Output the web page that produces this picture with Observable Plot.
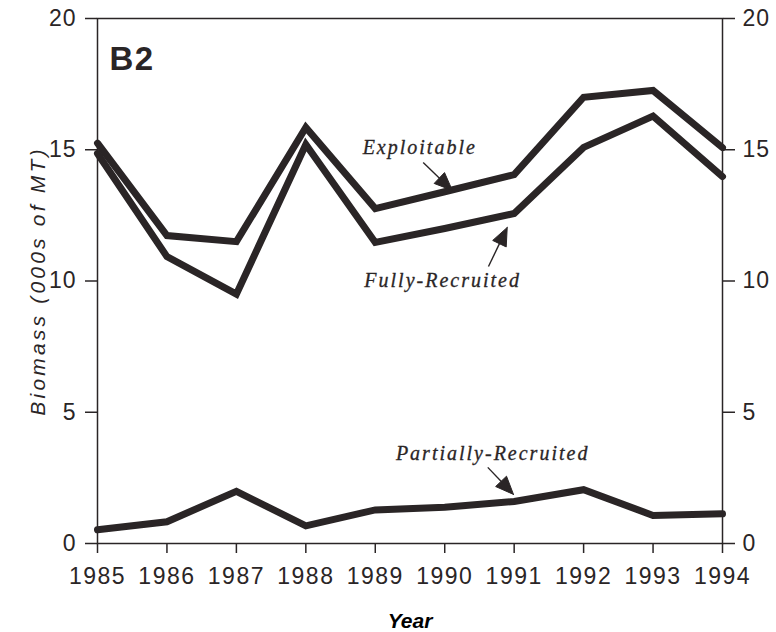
<!DOCTYPE html>
<html><head><meta charset="utf-8">
<script src="https://cdn.jsdelivr.net/npm/d3@7"></script>
<script src="https://cdn.jsdelivr.net/npm/@observablehq/plot@0.6"></script>
<style>
body{margin:0;background:#fff;}
#chart svg{display:block;}
#chart g[aria-label="x-axis tick label"] text{letter-spacing:1.5px;}
#chart g[aria-label="y-axis tick label"] text{letter-spacing:1px;}
</style></head><body><div id="chart"></div>
<script>
const years = [1985, 1986, 1987, 1988, 1989, 1990, 1991, 1992, 1993, 1994];
const exploitable = [15.25, 11.73, 11.5, 15.85, 12.76, 13.4, 14.05, 17.0, 17.26, 15.08];
const fullyRecruited = [14.86, 10.93, 9.5, 15.2, 11.47, 12.0, 12.57, 15.09, 16.28, 13.98];
const partiallyRecruited = [0.52, 0.83, 1.99, 0.67, 1.28, 1.38, 1.6, 2.05, 1.07, 1.13];
const yTicks = [0, 5, 10, 15, 20];
const xTicks = years;
const panelLabel = "B2";
const yLabel = "Biomass (000s of MT)";
const xLabel = "Year";
const seriesLabels = ["Exploitable", "Fully-Recruited", "Partially-Recruited"];
const labelX = [1989.64, 1989.97, 1990.69];
const labelY = [15.09, 10.02, 3.43];
const arrowFromX = [1989.69, 1990.63, 1990.62];
const arrowFromY = [14.51, 10.55, 2.9];
const arrowToX = [1990.11, 1990.9, 1990.99];
const arrowToY = [13.45, 12.04, 1.87];

const W = 776, H = 632, mL = 97, mR = 54, mT = 18, mB = 89;
const ink = "#2a2526";

const rows = [];
years.forEach((yr, i) => {
  rows.push({year: yr, value: exploitable[i], series: "Exploitable"});
  rows.push({year: yr, value: fullyRecruited[i], series: "Fully-Recruited"});
  rows.push({year: yr, value: partiallyRecruited[i], series: "Partially-Recruited"});
});

// pixel helpers mirroring plot scales, used for arrowhead geometry
const sx = d3.scaleLinear([1985, 1994], [mL, W - mR]);
const sy = d3.scaleLinear([0, 20], [H - mB, mT]);
const shafts = [], heads = [];
seriesLabels.forEach((s, i) => {
  const x1 = sx(arrowFromX[i]), y1 = sy(arrowFromY[i]);
  const x2 = sx(arrowToX[i]), y2 = sy(arrowToY[i]);
  const dx = x2 - x1, dy = y2 - y1, len = Math.hypot(dx, dy);
  const ux = dx / len, uy = dy / len;
  const hl = 18, hw = 7.5;
  const bx = x2 - ux * hl, by = y2 - uy * hl;
  shafts.push({x1: arrowFromX[i], y1: arrowFromY[i], x2: sx.invert(bx + ux * 2), y2: sy.invert(by + uy * 2)});
  const pts = [[x2, y2], [bx - uy * hw, by + ux * hw], [bx + uy * hw, by - ux * hw], [x2, y2]];
  pts.forEach(p => heads.push({x: sx.invert(p[0]), y: sy.invert(p[1]), k: s}));
});
const labelRows = seriesLabels.map((t, i) => ({text: t, x: labelX[i], y: labelY[i]}));

const chart = Plot.plot({
  width: W, height: H,
  marginLeft: mL, marginRight: mR, marginTop: mT, marginBottom: mB,
  style: {fontFamily: "'Liberation Sans', Arial, sans-serif", color: ink, background: "#fff"},
  x: {domain: [1985, 1994]},
  y: {domain: [0, 20]},
  marks: [
    Plot.frame({stroke: ink, strokeWidth: 1.5}),
    Plot.axisX({ticks: xTicks, tickFormat: d => String(d), tickSize: 10, tickPadding: 14, fontSize: 23, stroke: ink, strokeWidth: 1.5, label: null}),
    Plot.axisY({anchor: "left", ticks: yTicks, tickSize: 12, tickPadding: 9, fontSize: 23, stroke: ink, strokeWidth: 1.5, label: null}),
    Plot.axisY({anchor: "right", ticks: yTicks, tickSize: 12, tickPadding: 8, fontSize: 23, stroke: ink, strokeWidth: 1.5, label: null}),
    Plot.line(rows, {x: "year", y: "value", z: "series", stroke: ink, strokeWidth: 7, strokeLinejoin: "miter", strokeMiterlimit: 4, curve: "linear"}),
    Plot.link(shafts, {x1: "x1", y1: "y1", x2: "x2", y2: "y2", stroke: ink, strokeWidth: 1.4}),
    Plot.line(heads, {x: "x", y: "y", z: "k", fill: ink, stroke: ink, strokeWidth: 1}),
    Plot.text(labelRows, {x: "x", y: "y", text: "text", fontFamily: "'Liberation Serif', 'Times New Roman', serif", fontStyle: "italic", fontSize: 20, fill: ink, stroke: ink, strokeWidth: 0.3}),
    Plot.text([panelLabel], {frameAnchor: "top-left", dx: 12, dy: 28, fontSize: 33, fontWeight: "bold", textAnchor: "start", lineAnchor: "top", fill: ink}),
    Plot.text([yLabel], {frameAnchor: "left", dx: -59, rotate: -90, textAnchor: "middle", fontSize: 21, fontStyle: "italic", fill: ink}),
    Plot.text([xLabel], {frameAnchor: "bottom", dy: 78, fontSize: 21, fontStyle: "italic", fontWeight: "bold", lineAnchor: "middle", fill: "#000"})
  ]
});
document.getElementById("chart").append(chart);
document.querySelectorAll('#chart text').forEach(t => {
  const s = t.textContent;
  if (s === yLabel) t.style.letterSpacing = "3.2px";
  if (seriesLabels.includes(s)) t.style.letterSpacing = "2px";
  if (s === panelLabel) t.style.letterSpacing = "1.5px";
});
</script></body></html>
